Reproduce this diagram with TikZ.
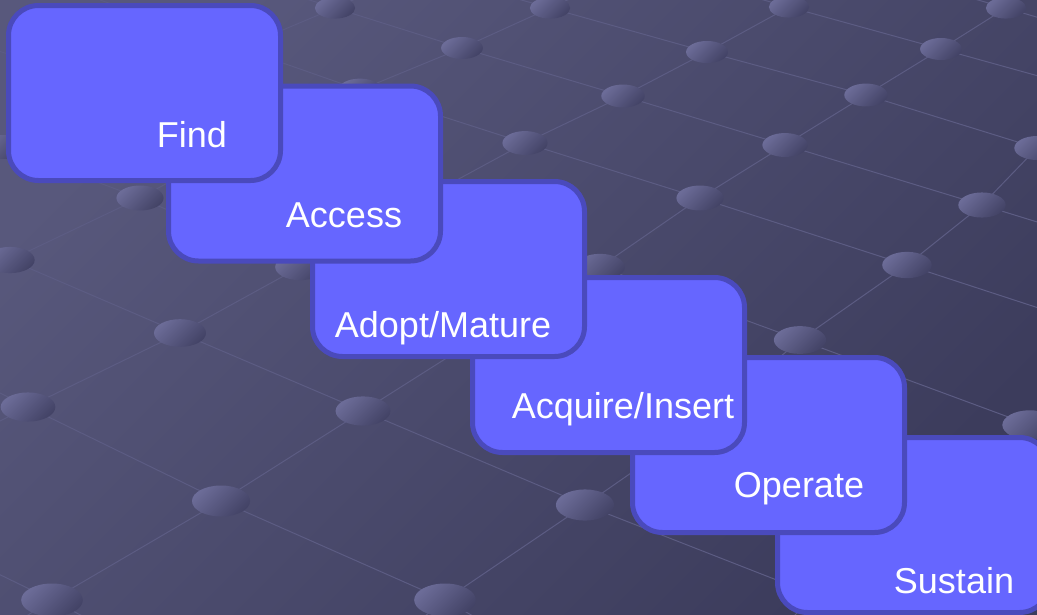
\documentclass[tikz,border=0pt]{standalone}
\usepackage{fontspec}
\setmainfont{Liberation Sans}
\definecolor{bgtop}{HTML}{58587C}
\definecolor{bgbottom}{HTML}{3C3C5C}
\definecolor{gridline}{HTML}{5C5C83}
\definecolor{dotlight}{HTML}{6C6C98}
\definecolor{dotdark}{HTML}{434366}
\definecolor{stagefill}{HTML}{6666FF}
\definecolor{stageborder}{HTML}{4A4ABC}
\tikzset{
  stage/.style={draw=stageborder, line width=5pt, fill=stagefill, rounded corners=30pt,
    minimum width=272pt, minimum height=175pt, inner sep=0pt},
  stagetext/.style={text=white, font=\fontsize{36}{43}\selectfont, anchor=base, inner sep=0pt},
  gridline/.style={draw=gridline, line width=1pt},
}
\begin{document}
\begin{tikzpicture}[x=1pt,y=-1pt]
    \useasboundingbox (0,0) rectangle (1037,614);
    \clip (0,0) rectangle (1037,614);
    \shade[top color=bgtop, bottom color=bgbottom, shading angle=45] (0,0) rectangle (1037,614);
    % lines rising to the right
    \draw[gridline] (-20,157)--(3,147)--(125,92)--(240,48)--(335,8)--(380,-12);
    \draw[gridline] (-30,279)--(10,260)--(140,198)--(255,135)--(360,90)--(462,48)--(550,8)--(600,-15);
    \draw[gridline] (-30,436)--(28,407)--(180,333)--(300,267)--(420,200)--(525,143)--(623,96)--(707,52)--(789,7)--(820,-10);
    \draw[gridline] (20,620)--(52,600)--(221,501)--(363,411)--(483,335)--(600,267)--(700,198)--(785,145)--(866,95)--(941,49)--(1006,8)--(1030,-8);
    \draw[gridline] (420,620)--(445,600)--(585,505)--(700,425)--(800,340)--(907,265)--(982,205)--(1037,148)--(1060,125);
    \draw[gridline] (790,620)--(815,595)--(920,510)--(1030,425)--(1060,400);
    % lines falling to the right
    \draw[gridline] (950,-8)--(1006,8)--(1060,24);
    \draw[gridline] (720,-12)--(789,7)--(941,49)--(1060,82);
    \draw[gridline] (500,-6)--(550,8)--(707,52)--(866,95)--(1037,148)--(1060,155);
    \draw[gridline] (300,-3)--(335,8)--(462,48)--(623,96)--(785,145)--(982,205)--(1060,229);
    \draw[gridline] (100,0)--(240,48)--(360,90)--(525,143)--(700,198)--(907,265)--(1060,315);
    \draw[gridline] (-20,45)--(125,92)--(255,135)--(420,200)--(600,267)--(800,340)--(1030,425)--(1060,436);
    \draw[gridline] (-20,138)--(3,147)--(140,198)--(300,267)--(483,335)--(700,425)--(920,510)--(1060,565);
    \draw[gridline] (-20,248)--(10,260)--(180,333)--(363,411)--(585,505)--(815,595)--(870,620);
    \draw[gridline] (-20,383)--(28,407)--(221,501)--(445,600)--(480,620);
    \draw[gridline] (-20,565)--(52,600)--(90,620);
    % knots where the lines cross
    \foreach \x/\y in {3/147,125/92,240/48,335/8,
        10/260,140/198,255/135,360/90,462/48,550/8,
        28/407,180/333,300/267,420/200,525/143,623/96,707/52,789/7,
        52/600,221/501,363/411,483/335,600/267,700/198,785/145,866/95,941/49,1006/8,
        445/600,585/505,700/425,800/340,907/265,982/205,1037/148,
        815/595,920/510,1030/425}{
      \pgfmathsetmacro\rx{20+0.018*\y}
      \pgfmathsetmacro\ry{10.5+0.01*\y}
      \shade[top color=dotlight, bottom color=dotdark, shading angle=45] (\x,\y) ellipse ({\rx pt} and {\ry pt});
    }
    % stages, last one first
    \node[stage] (sustain) at (913.5,525) {};
    \node[stagetext] (sustaintext) at (954,593) {Sustain};
    \node[stage] (operate) at (768.5,445) {};
    \node[stagetext] (operatetext) at (799,497) {Operate};
    \node[stage] (acquire) at (608.5,365) {};
    \node[stagetext] (acquiretext) at (623,418) {Acquire/Insert};
    \node[stage] (adopt) at (448.5,269) {};
    \node[stagetext] (adopttext) at (443,337) {Adopt/Mature};
    \node[stage] (access) at (304.5,173.5) {};
    \node[stagetext] (accesstext) at (344,227) {Access};
    \node[stage] (find) at (144.5,93) {};
    \node[stagetext] (findtext) at (192,147) {Find};
\end{tikzpicture}
\end{document}
